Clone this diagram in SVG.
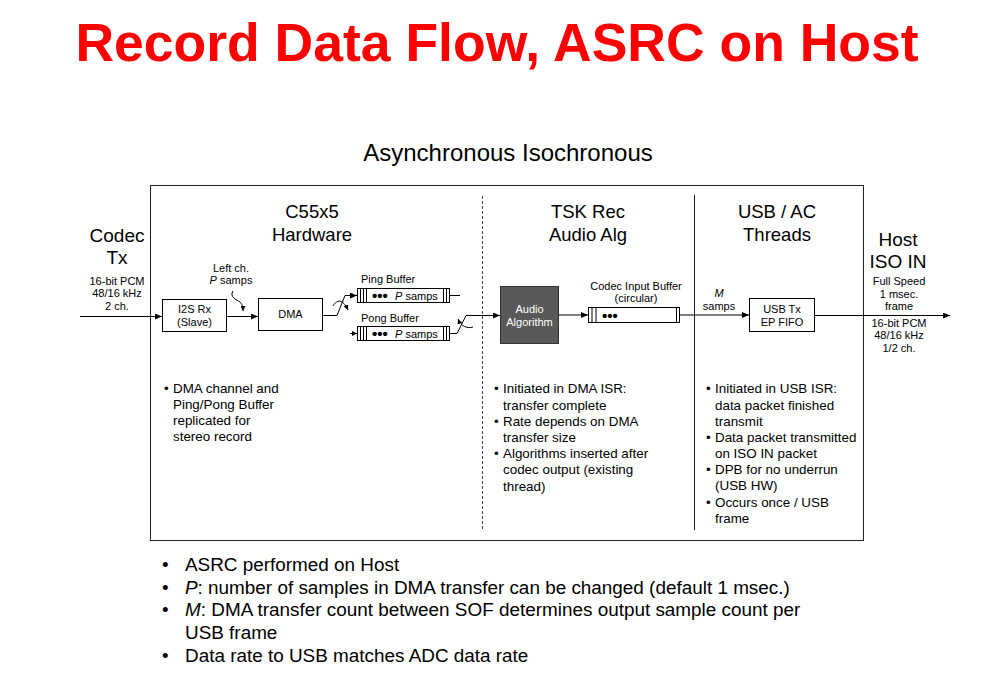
<svg xmlns="http://www.w3.org/2000/svg" width="1000" height="691" viewBox="0 0 1000 691">
<style>
text{font-family:"Liberation Sans",Arial,sans-serif;fill:#000}
.title{font-size:53.5px;font-weight:bold;fill:#f00}
.sub{font-size:24px}
.hd{font-size:18.5px}
.side{font-size:19px}
.sm{font-size:11px}
.bl{font-size:13.4px}
.bb{font-size:18.9px}
.ln{stroke:#000;stroke-width:1;fill:none}
.box{stroke:#000;stroke-width:1;fill:#fff}
.dots{font-size:15px;font-weight:bold}
.it{font-style:italic}
</style>
<defs>
<marker id="ah" markerWidth="8" markerHeight="6" refX="7" refY="3" orient="auto" markerUnits="userSpaceOnUse">
<path d="M0,0 L7,3 L0,6 Z" fill="#000"/>
</marker>
<marker id="ahs" markerWidth="6" markerHeight="5" refX="5" refY="2.5" orient="auto" markerUnits="userSpaceOnUse">
<path d="M0,0 L5,2.5 L0,5 Z" fill="#000"/>
</marker>
</defs>
<rect width="1000" height="691" fill="#fff"/>
<text class="title" x="497" y="61" text-anchor="middle">Record Data Flow, ASRC on Host</text>
<text class="sub" x="508" y="161" text-anchor="middle">Asynchronous Isochronous</text>

<g id="frame">
<rect x="150.5" y="185.5" width="713" height="355" fill="none" stroke="#222" stroke-width="1"/>
<line x1="482.5" y1="196" x2="482.5" y2="530" stroke="#444" stroke-width="1" stroke-dasharray="3,2"/>
<line x1="694.5" y1="195" x2="694.5" y2="530" stroke="#222" stroke-width="1"/>
</g>

<g id="headings">
<text class="hd" x="312" y="218" text-anchor="middle">C55x5</text>
<text class="hd" x="312" y="241" text-anchor="middle">Hardware</text>
<text class="hd" x="588" y="218" text-anchor="middle">TSK Rec</text>
<text class="hd" x="588" y="241" text-anchor="middle">Audio Alg</text>
<text class="hd" x="777" y="218" text-anchor="middle">USB / AC</text>
<text class="hd" x="777" y="241" text-anchor="middle">Threads</text>
</g>

<g id="codec-tx">
<text class="side" x="117" y="242" text-anchor="middle">Codec</text>
<text class="side" x="117" y="264" text-anchor="middle">Tx</text>
<text class="sm" x="117" y="285" text-anchor="middle">16-bit PCM</text>
<text class="sm" x="117" y="297" text-anchor="middle">48/16 kHz</text>
<text class="sm" x="117" y="310" text-anchor="middle">2 ch.</text>
</g>

<g id="host-iso-in">
<text class="side" x="898" y="246" text-anchor="middle">Host</text>
<text class="side" x="898" y="268" text-anchor="middle">ISO IN</text>
<text class="sm" x="899" y="285" text-anchor="middle">Full Speed</text>
<text class="sm" x="899" y="298" text-anchor="middle">1 msec.</text>
<text class="sm" x="899" y="310" text-anchor="middle">frame</text>
<text class="sm" x="899" y="327" text-anchor="middle">16-bit PCM</text>
<text class="sm" x="899" y="339" text-anchor="middle">48/16 kHz</text>
<text class="sm" x="899" y="352" text-anchor="middle">1/2 ch.</text>
</g>

<g id="i2s-rx">
<rect class="box" x="162.5" y="299.5" width="64" height="32"/>
<text class="sm" x="194.5" y="313" text-anchor="middle">I2S Rx</text>
<text class="sm" x="194.5" y="326" text-anchor="middle">(Slave)</text>
</g>

<g id="left-ch-label">
<text class="sm" x="231" y="272" text-anchor="middle">Left ch.</text>
<text class="sm" x="231" y="284" text-anchor="middle"><tspan class="it">P</tspan> samps</text>
</g>

<g id="dma">
<rect class="box" x="258.5" y="298.5" width="64" height="32"/>
<text class="sm" x="290.5" y="318" text-anchor="middle">DMA</text>
</g>

<g id="ping-buffer">
<text class="sm" x="361" y="283">Ping Buffer</text>
<rect class="box" x="357.5" y="288.5" width="92" height="14"/>
<line class="ln" x1="360.5" y1="288.5" x2="360.5" y2="302.5"/>
<line class="ln" x1="363.5" y1="288.5" x2="363.5" y2="302.5"/>
<line class="ln" x1="366.5" y1="288.5" x2="366.5" y2="302.5"/>
<line class="ln" x1="443.5" y1="288.5" x2="443.5" y2="302.5"/>
<line class="ln" x1="446.5" y1="288.5" x2="446.5" y2="302.5"/>
<text class="dots" x="372" y="300.5">•••</text>
<text class="sm" x="395" y="299.5"><tspan class="it">P</tspan> samps</text>
</g>

<g id="pong-buffer">
<text class="sm" x="361" y="322">Pong Buffer</text>
<rect class="box" x="357.5" y="326.5" width="92" height="14"/>
<line class="ln" x1="360.5" y1="326.5" x2="360.5" y2="340.5"/>
<line class="ln" x1="363.5" y1="326.5" x2="363.5" y2="340.5"/>
<line class="ln" x1="366.5" y1="326.5" x2="366.5" y2="340.5"/>
<line class="ln" x1="443.5" y1="326.5" x2="443.5" y2="340.5"/>
<line class="ln" x1="446.5" y1="326.5" x2="446.5" y2="340.5"/>
<text class="dots" x="372" y="338.5">•••</text>
<text class="sm" x="395" y="337.5"><tspan class="it">P</tspan> samps</text>
</g>

<g id="audio-algorithm">
<rect x="500.5" y="286.5" width="58" height="57" fill="#595959" stroke="#333" stroke-width="1"/>
<text class="sm" x="529.5" y="313" text-anchor="middle" style="fill:#fff">Audio</text>
<text class="sm" x="529.5" y="326" text-anchor="middle" style="fill:#fff">Algorithm</text>
</g>

<g id="codec-input-buffer">
<text class="sm" x="636" y="290" text-anchor="middle">Codec Input Buffer</text>
<text class="sm" x="636" y="302" text-anchor="middle">(circular)</text>
<rect class="box" x="588.5" y="307.5" width="91" height="15"/>
<line class="ln" x1="592" y1="307.5" x2="592" y2="322.5"/>
<line class="ln" x1="596" y1="307.5" x2="596" y2="322.5"/>
<line class="ln" x1="676.5" y1="307.5" x2="676.5" y2="322.5"/>
<text class="dots" x="602" y="320.5">•••</text>
</g>

<g id="m-samps-label">
<text class="sm it" x="719" y="297" text-anchor="middle">M</text>
<text class="sm" x="719" y="310" text-anchor="middle">samps</text>
</g>

<g id="usb-tx">
<rect class="box" x="749.5" y="298.5" width="65" height="33"/>
<text class="sm" x="782" y="313" text-anchor="middle">USB Tx</text>
<text class="sm" x="782" y="326" text-anchor="middle">EP FIFO</text>
</g>

<g id="connectors">
<line class="ln" x1="80" y1="316.5" x2="162" y2="316.5" marker-end="url(#ah)"/>
<line class="ln" x1="226.5" y1="316.5" x2="258" y2="316.5" marker-end="url(#ah)"/>
<path class="ln" d="M233,291 C229,297 237,300 240,302 C242,304 243,306 243,311" marker-end="url(#ahs)"/>
<path class="ln" d="M322.5,315.5 H337 L345,295.5 H357" marker-end="url(#ah)"/>
<path class="ln" d="M333,306 C337,299 343,299 348,310" marker-end="url(#ahs)"/>
<line class="ln" x1="449.5" y1="295.5" x2="460" y2="295.5"/>
<line class="ln" x1="350" y1="333.5" x2="357" y2="333.5" marker-end="url(#ahs)"/>
<path class="ln" d="M449.5,333.5 H457 L466,315.5 H500" marker-end="url(#ah)"/>
<path class="ln" d="M473,327 C467,329 461,326 458,319" marker-end="url(#ahs)"/>
<line class="ln" x1="558.5" y1="315" x2="588" y2="315" marker-end="url(#ah)"/>
<line class="ln" x1="679.5" y1="315" x2="749" y2="315" marker-end="url(#ah)"/>
<line class="ln" x1="814.5" y1="315.5" x2="950" y2="315.5" marker-end="url(#ah)"/>
</g>

<g id="notes-hardware">
<text class="bl" x="164" y="393">•</text>
<text class="bl" x="173" y="393">DMA channel and</text>
<text class="bl" x="173" y="409">Ping/Pong Buffer</text>
<text class="bl" x="173" y="425">replicated for</text>
<text class="bl" x="173" y="441">stereo record</text>
</g>

<g id="notes-tsk">
<text class="bl" x="494" y="393">•</text>
<text class="bl" x="503" y="393">Initiated in DMA ISR:</text>
<text class="bl" x="503" y="410">transfer complete</text>
<text class="bl" x="494" y="426">•</text>
<text class="bl" x="503" y="426">Rate depends on DMA</text>
<text class="bl" x="503" y="442">transfer size</text>
<text class="bl" x="494" y="458">•</text>
<text class="bl" x="503" y="458">Algorithms inserted after</text>
<text class="bl" x="503" y="474">codec output (existing</text>
<text class="bl" x="503" y="491">thread)</text>
</g>

<g id="notes-usb">
<text class="bl" x="706" y="393">•</text>
<text class="bl" x="715" y="393">Initiated in USB ISR:</text>
<text class="bl" x="715" y="410">data packet finished</text>
<text class="bl" x="715" y="426">transmit</text>
<text class="bl" x="706" y="442">•</text>
<text class="bl" x="715" y="442">Data packet transmitted</text>
<text class="bl" x="715" y="458">on ISO IN packet</text>
<text class="bl" x="706" y="474">•</text>
<text class="bl" x="715" y="474">DPB for no underrun</text>
<text class="bl" x="715" y="490">(USB HW)</text>
<text class="bl" x="706" y="507">•</text>
<text class="bl" x="715" y="507">Occurs once / USB</text>
<text class="bl" x="715" y="523">frame</text>
</g>

<g id="summary">
<text class="bb" x="162" y="571">•</text>
<text class="bb" x="185" y="571">ASRC performed on Host</text>
<text class="bb" x="162" y="594">•</text>
<text class="bb" x="185" y="594"><tspan class="it">P</tspan>: number of samples in DMA transfer can be changed (default 1 msec.)</text>
<text class="bb" x="162" y="616">•</text>
<text class="bb" x="185" y="616"><tspan class="it">M</tspan>: DMA transfer count between SOF determines output sample count per</text>
<text class="bb" x="185" y="639">USB frame</text>
<text class="bb" x="162" y="662">•</text>
<text class="bb" x="185" y="662">Data rate to USB matches ADC data rate</text>
</g>
</svg>
